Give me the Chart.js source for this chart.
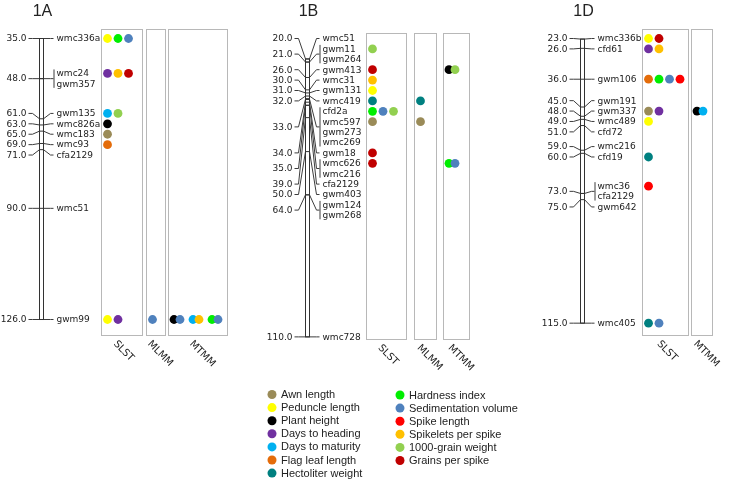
<!DOCTYPE html>
<html>
<head>
<meta charset="utf-8">
<script src="https://cdn.jsdelivr.net/npm/chart.js@4.4.1/dist/chart.umd.min.js"></script>
<style>
  html, body { margin: 0; padding: 0; background: #fff; }
  canvas { display: block; }
</style>
</head>
<body>
<canvas id="myChart" width="731" height="481"></canvas>
<script>
//Traits (legend order) and their colours
const traits = ['Awn length', 'Peduncle length', 'Plant height', 'Days to heading', 'Days to maturity',
  'Flag leaf length', 'Hectoliter weight', 'Hardness index', 'Sedimentation volume', 'Spike length',
  'Spikelets per spike', '1000-grain weight', 'Grains per spike'];
const traitColors = ['#9a8b58', '#ffff00', '#000000', '#7030a0', '#00b0f0', '#e46c0a', '#008080',
  '#00ee00', '#4f81bd', '#ff0000', '#ffc000', '#92d050', '#c00000'];

//Chromosome 1A
const markers1A = ['wmc336a', 'wmc24', 'gwm357', 'gwm135', 'wmc826a', 'wmc183', 'wmc93', 'cfa2129', 'wmc51', 'gwm99'];
const cM1A = [35, 48, 48, 61, 63, 65, 69, 71, 90, 126];
const methods1A = ['SLST', 'MLMM', 'MTMM'];
const qtl1A = [
  ['wmc336a', 'SLST', 'Peduncle length'], ['wmc336a', 'SLST', 'Hardness index'], ['wmc336a', 'SLST', 'Sedimentation volume'],
  ['wmc24', 'SLST', 'Days to heading'], ['wmc24', 'SLST', 'Spikelets per spike'], ['wmc24', 'SLST', 'Grains per spike'],
  ['gwm135', 'SLST', 'Days to maturity'], ['gwm135', 'SLST', '1000-grain weight'],
  ['wmc826a', 'SLST', 'Plant height'],
  ['wmc183', 'SLST', 'Awn length'],
  ['wmc93', 'SLST', 'Flag leaf length'],
  ['gwm99', 'SLST', 'Peduncle length'], ['gwm99', 'SLST', 'Days to heading'],
  ['gwm99', 'MLMM', 'Sedimentation volume'],
  ['gwm99', 'MTMM', ['Plant height', 'Sedimentation volume']],
  ['gwm99', 'MTMM', ['Days to maturity', 'Spikelets per spike']],
  ['gwm99', 'MTMM', ['Hardness index', 'Sedimentation volume']]
];

//Chromosome 1B
const markers1B = ['wmc51', 'gwm11', 'gwm264', 'gwm413', 'wmc31', 'gwm131', 'wmc419', 'cfd2a', 'wmc597', 'gwm273',
  'wmc269', 'gwm18', 'wmc626', 'wmc216', 'cfa2129', 'gwm403', 'gwm124', 'gwm268', 'wmc728'];
const cM1B = [20, 21, 21, 26, 30, 31, 32, 33, 33, 33, 33, 34, 35, 35, 39, 50, 64, 64, 110];
const methods1B = ['SLST', 'MLMM', 'MTMM'];
const qtl1B = [
  ['gwm11', 'SLST', '1000-grain weight'],
  ['gwm413', 'SLST', 'Grains per spike'],
  ['wmc31', 'SLST', 'Spikelets per spike'],
  ['gwm131', 'SLST', 'Peduncle length'],
  ['wmc419', 'SLST', 'Hectoliter weight'],
  ['cfd2a', 'SLST', 'Hardness index'], ['cfd2a', 'SLST', 'Sedimentation volume'], ['cfd2a', 'SLST', '1000-grain weight'],
  ['wmc597', 'SLST', 'Awn length'],
  ['gwm18', 'SLST', 'Grains per spike'],
  ['wmc626', 'SLST', 'Grains per spike'],
  ['wmc419', 'MLMM', 'Hectoliter weight'],
  ['wmc597', 'MLMM', 'Awn length'],
  ['gwm413', 'MTMM', ['Plant height', '1000-grain weight']],
  ['wmc626', 'MTMM', ['Hardness index', 'Sedimentation volume']]
];

//Chromosome 1D
const markers1D = ['wmc336b', 'cfd61', 'gwm106', 'gwm191', 'gwm337', 'wmc489', 'cfd72', 'wmc216', 'cfd19', 'wmc36',
  'cfa2129', 'gwm642', 'wmc405'];
const cM1D = [23, 26, 36, 45, 48, 49, 51, 59, 60, 73, 73, 75, 115];
const methods1D = ['SLST', 'MTMM'];
const qtl1D = [
  ['wmc336b', 'SLST', 'Peduncle length'], ['wmc336b', 'SLST', 'Grains per spike'],
  ['cfd61', 'SLST', 'Days to heading'], ['cfd61', 'SLST', 'Spikelets per spike'],
  ['gwm106', 'SLST', 'Flag leaf length'], ['gwm106', 'SLST', 'Hardness index'], ['gwm106', 'SLST', 'Sedimentation volume'], ['gwm106', 'SLST', 'Spike length'],
  ['gwm337', 'SLST', 'Awn length'], ['gwm337', 'SLST', 'Days to heading'],
  ['wmc489', 'SLST', 'Peduncle length'],
  ['cfd19', 'SLST', 'Hectoliter weight'],
  ['wmc36', 'SLST', 'Spike length'],
  ['wmc405', 'SLST', 'Hectoliter weight'], ['wmc405', 'SLST', 'Sedimentation volume'],
  ['gwm337', 'MTMM', ['Plant height', 'Days to maturity']]
];

//Layout of the page
const W = 731, H = 481;
const PX_PER_CM = 3.088;   // map scale
const ROW_PX = 10.4;       // spacing of marker labels
const FIRST_LABEL_Y = 38.5;

const panels = [
  { name: '1A', markers: markers1A, cM: cM1A, qtl: qtl1A, methods: methods1A, cx: 41.5,
    boxes: [[101, 142], [146, 165], [168, 227]], boxTop: 29, boxBottom: 335 },
  { name: '1B', markers: markers1B, cM: cM1B, qtl: qtl1B, methods: methods1B, cx: 307.5,
    boxes: [[366, 406], [414, 436], [443, 469]], boxTop: 33, boxBottom: 339 },
  { name: '1D', markers: markers1D, cM: cM1D, qtl: qtl1D, methods: methods1D, cx: 582.5,
    boxes: [[642, 688], [691, 712]], boxTop: 29, boxBottom: 335 }
];

// push overlapping labels apart (cM units), each cluster centred on its span
function spreadLabels(pos, gap) {
  const place = c => { c.start = (pos[c.a] + pos[c.b]) / 2 - (c.b - c.a) * gap / 2; return c; };
  let clusters = pos.map((p, i) => place({ a: i, b: i }));
  let merged = true;
  while (merged) {
    merged = false;
    for (let i = 0; i < clusters.length - 1; i++) {
      const c = clusters[i], d = clusters[i + 1];
      if (c.start + (c.b - c.a + 1) * gap > d.start + 1e-9) {
        clusters.splice(i, 2, place({ a: c.a, b: d.b }));
        merged = true;
        break;
      }
    }
  }
  const out = [];
  clusters.forEach(c => { for (let k = c.a; k <= c.b; k++) out.push(c.start + (k - c.a) * gap); });
  return out;
}

const scales = { x: { type: 'linear', min: 0, max: W, display: false } };
const datasets = [];

panels.forEach(p => {
  p.labelCM = spreadLabels(p.cM, ROW_PX / PX_PER_CM);
  const yMin = p.labelCM[0] - FIRST_LABEL_Y / PX_PER_CM;
  scales['y' + p.name] = { type: 'linear', reverse: true, display: false, min: yMin, max: yMin + H / PX_PER_CM };

  const pts = traits.map(() => []);
  const count = {};
  p.qtl.forEach(([m, meth, t]) => {
    const i = p.markers.indexOf(m);
    const left = p.boxes[p.methods.indexOf(meth)][0];
    const key = m + '|' + meth;
    const k = count[key] || 0;
    count[key] = k + 1;
    const y = p.labelCM[i];
    if (Array.isArray(t)) {
      const x = left + 6 + k * 19;
      pts[traits.indexOf(t[0])].push({ x: x, y: y });
      pts[traits.indexOf(t[1])].push({ x: x + 6, y: y });
    } else {
      pts[traits.indexOf(t)].push({ x: left + 6.5 + k * 10.5, y: y });
    }
  });
  traits.forEach((t, ti) => {
    if (pts[ti].length) {
      datasets.push({
        label: t, data: pts[ti], xAxisID: 'x', yAxisID: 'y' + p.name,
        backgroundColor: traitColors[ti], borderWidth: 0, pointRadius: 4.4,
        order: -ti, clip: false
      });
    }
  });
});

function drawPanel(chart, p) {
  const ctx = chart.ctx;
  const ys = chart.scales['y' + p.name];
  const ty = p.cM.map(v => ys.getPixelForValue(v));
  const ly = p.labelCM.map(v => ys.getPixelForValue(v));
  const cx = p.cx;

  ctx.fillStyle = '#222';
  ctx.font = '16px "Liberation Sans"';
  ctx.textAlign = 'center';
  ctx.textBaseline = 'middle';
  ctx.fillText(p.name, cx + 1, 12);

  //method boxes + rotated names
  ctx.lineWidth = 1;
  p.boxes.forEach(([a, b], j) => {
    ctx.strokeStyle = '#b8b8b8';
    ctx.strokeRect(a + 0.5, p.boxTop + 0.5, b - a, p.boxBottom - p.boxTop);
    ctx.save();
    ctx.translate((a + b) / 2 - 3, p.boxBottom + 4);
    ctx.rotate(Math.PI / 4);
    ctx.font = '10px "DejaVu Sans"';
    ctx.textAlign = 'left';
    ctx.textBaseline = 'top';
    ctx.fillStyle = '#222';
    ctx.fillText(p.methods[j], 0, 0);
    ctx.restore();
  });

  //group markers sharing a position
  const groups = [];
  p.cM.forEach((v, i) => {
    const g = groups[groups.length - 1];
    if (g && g.v === v) g.idx.push(i); else groups.push({ v: v, idx: [i] });
  });

  ctx.strokeStyle = '#3c3c3c';
  ctx.font = '9px "DejaVu Sans"';
  ctx.textBaseline = 'middle';
  groups.forEach(g => {
    const t = ys.getPixelForValue(g.v);
    const m = g.idx.reduce((s, i) => s + ly[i], 0) / g.idx.length;
    ctx.beginPath();
    ctx.moveTo(cx - 13, m); ctx.lineTo(cx - 9, m); ctx.lineTo(cx - 2, t);
    ctx.stroke();
    ctx.beginPath();
    ctx.moveTo(cx + 2, t); ctx.lineTo(cx + 9, m); ctx.lineTo(cx + 12, m);
    ctx.stroke();
    if (g.idx.length > 1) {
      ctx.beginPath();
      ctx.moveTo(cx + 12.5, ly[g.idx[0]] - 4);
      ctx.lineTo(cx + 12.5, ly[g.idx[g.idx.length - 1]] + 4);
      ctx.stroke();
    }
    ctx.fillStyle = '#222';
    ctx.textAlign = 'right';
    ctx.fillText(g.v.toFixed(1), cx - 15, m + 0.5);
    ctx.textAlign = 'left';
    g.idx.forEach(i => ctx.fillText(p.markers[i], cx + 15, ly[i] + 0.5));
  });

  //chromosome bar
  const top = ty[0], bot = ty[ty.length - 1];
  ctx.fillStyle = '#fff';
  ctx.fillRect(cx - 2, top, 4, bot - top);
  ctx.strokeStyle = '#333';
  ctx.strokeRect(cx - 2, top, 4, bot - top);
  ty.forEach(y => {
    ctx.beginPath(); ctx.moveTo(cx - 2, y); ctx.lineTo(cx + 2, y); ctx.stroke();
  });
}

function drawLegend(ctx) {
  const cols = [
    { items: traits.slice(0, 7), offset: 0, dotX: 272, textX: 281, y0: 394.5 },
    { items: traits.slice(7), offset: 7, dotX: 400, textX: 409, y0: 395 }
  ];
  ctx.font = '11px "Liberation Sans"';
  ctx.textAlign = 'left';
  ctx.textBaseline = 'middle';
  cols.forEach(c => {
    c.items.forEach((t, i) => {
      const y = c.y0 + i * 13.1;
      ctx.fillStyle = traitColors[c.offset + i];
      ctx.beginPath(); ctx.arc(c.dotX, y, 4.5, 0, Math.PI * 2); ctx.fill();
      ctx.fillStyle = '#222';
      ctx.fillText(t, c.textX, y + 0.5);
    });
  });
}

const mapPlugin = {
  id: 'mapPlugin',
  beforeDatasetsDraw(chart) {
    chart.ctx.save();
    panels.forEach(p => drawPanel(chart, p));
    drawLegend(chart.ctx);
    chart.ctx.restore();
  }
};

const ctx = document.getElementById('myChart');
const myChart = new Chart(ctx, {
  type: 'scatter',
  data: { datasets: datasets },
  options: {
    responsive: false,
    animation: false,
    events: [],
    layout: { padding: 0, autoPadding: false },
    plugins: { legend: { display: false }, tooltip: { enabled: false } },
    scales: scales
  },
  plugins: [mapPlugin]
});
</script>
</body>
</html>
